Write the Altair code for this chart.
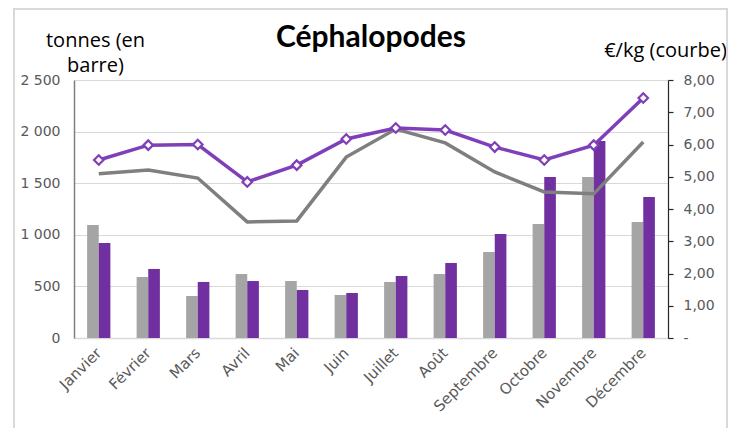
import altair as alt
import pandas as pd

mois = ["Janvier", "Février", "Mars", "Avril", "Mai", "Juin", "Juillet",
        "Août", "Septembre", "Octobre", "Novembre", "Décembre"]
tonnes_gris = [1095, 591, 407, 620, 552, 417, 543, 620, 833, 1105, 1560, 1124]
tonnes_violet = [920, 669, 543, 552, 465, 436, 601, 727, 1008, 1560, 1909, 1366]
prix_gris = [5.09, 5.21, 4.96, 3.60, 3.63, 5.61, 6.48, 6.05, 5.15, 4.53, 4.47, 6.08]
prix_violet = [5.52, 5.98, 6.00, 4.84, 5.36, 6.17, 6.51, 6.45, 5.92, 5.52, 5.98, 7.44]

series = ["A", "B"]
bar_colors = ["#A5A5A5", "#7030A0"]
line_colors = ["#7F7F7F", "#7E3FB8"]

bars = pd.DataFrame({
    "mois": mois * 2,
    "serie": ["A"] * 12 + ["B"] * 12,
    "tonnes": tonnes_gris + tonnes_violet,
})
lines = pd.DataFrame({
    "mois": mois * 2,
    "courbe": ["A"] * 12 + ["B"] * 12,
    "prix": prix_gris + prix_violet,
})

W, H = 594, 258
FONT = "Open Sans"
LFONT = "DejaVu Sans"

xscale = alt.Scale(domain=mois, paddingInner=0.53, paddingOuter=0.265)

xaxis = alt.Axis(title=None, labelAngle=-45, labelAlign="right", labelBaseline="middle",
                 labelFontSize=15, labelColor="#595959", labelFont=LFONT, labelPadding=12,
                 ticks=False, domainColor="#D9D9D9", domainWidth=1.5, grid=False)

bar_layer = alt.Chart(bars).mark_bar().encode(
    x=alt.X("mois:N", sort=mois, scale=xscale, axis=xaxis),
    xOffset=alt.XOffset("serie:N", sort=series, scale=alt.Scale(paddingInner=0, paddingOuter=0)),
    y=alt.Y("tonnes:Q", scale=alt.Scale(domain=[0, 2500], nice=False),
            axis=alt.Axis(values=[0, 500, 1000, 1500, 2000, 2500], orient="left",
                          labelExpr="replace(format(datum.value, ','), ',', ' ')",
                          labelFontSize=14, labelColor="#595959", labelFont=LFONT,
                          ticks=False, labelPadding=14,
                          domainColor="#7F7F7F", domainWidth=1.5,
                          grid=True, gridColor="#D9D9D9", gridWidth=1.2,
                          title=["tonnes (en", "barre)"], titleAngle=0,
                          titleAlign="center", titleBaseline="alphabetic",
                          titleX=21, titleY=-34, titleFontSize=20, titleFontWeight="normal",
                          titleFont=FONT, titleColor="#000000", titleLineHeight=25)),
    color=alt.Color("serie:N", scale=alt.Scale(domain=series, range=bar_colors), legend=None),
)

yscale_r = alt.Scale(domain=[0, 8], nice=False)
yright = alt.Y("prix:Q", scale=yscale_r,
               axis=alt.Axis(values=[0, 1, 2, 3, 4, 5, 6, 7, 8], orient="right",
                             labelExpr="datum.value == 0 ? '-' : replace(format(datum.value, '.2f'), '.', ',')",
                             labelFontSize=14, labelColor="#595959", labelFont=LFONT,
                             ticks=True, tickSize=5, tickColor="#262626", tickWidth=1.2,
                             labelPadding=10, domainColor="#262626", domainWidth=1.2,
                             grid=False,
                             title="€/kg (courbe)", titleAngle=0, titleAlign="center",
                             titleBaseline="alphabetic", titleX=-3, titleY=-24,
                             titleFontSize=20, titleFontWeight="normal", titleFont=FONT,
                             titleColor="#000000"))

line_layer = alt.Chart(lines).mark_line(strokeWidth=3.5).encode(
    x=alt.X("mois:N", sort=mois, scale=xscale),
    y=yright,
    stroke=alt.Stroke("courbe:N", scale=alt.Scale(domain=series, range=line_colors), legend=None),
)

point_layer = alt.Chart(lines[lines["courbe"] == "B"]).mark_point(
    shape="diamond", filled=True, fill="white", stroke="#7E3FB8", strokeWidth=2.2, size=90, opacity=1
).encode(
    x=alt.X("mois:N", sort=mois, scale=xscale),
    y=yright,
)

border = alt.Chart(pd.DataFrame({"k": [0]})).mark_rect(
    fill=None, stroke="#D9D9D9", strokeWidth=2
).encode(x=alt.value(-60), x2=alt.value(653), y=alt.value(-71), y2=alt.value(360))

right = alt.layer(line_layer, point_layer)

chart = alt.layer(bar_layer, right, border).resolve_scale(
    y="independent", color="independent", stroke="independent"
).properties(
    width=W, height=H,
    title=alt.Title("Céphalopodes", fontSize=30, fontWeight="bold", font="Lato",
                    color="#000000", anchor="middle", frame="group", offset=0,
                    baseline="alphabetic", dy=69),
    autosize=alt.AutoSizeParams(type="none"),
    padding={"left": 66, "top": 72, "right": 61, "bottom": 90},
).configure_view(stroke=None)

chart.save("out.html", embed_options={"renderer": "svg", "actions": False})
